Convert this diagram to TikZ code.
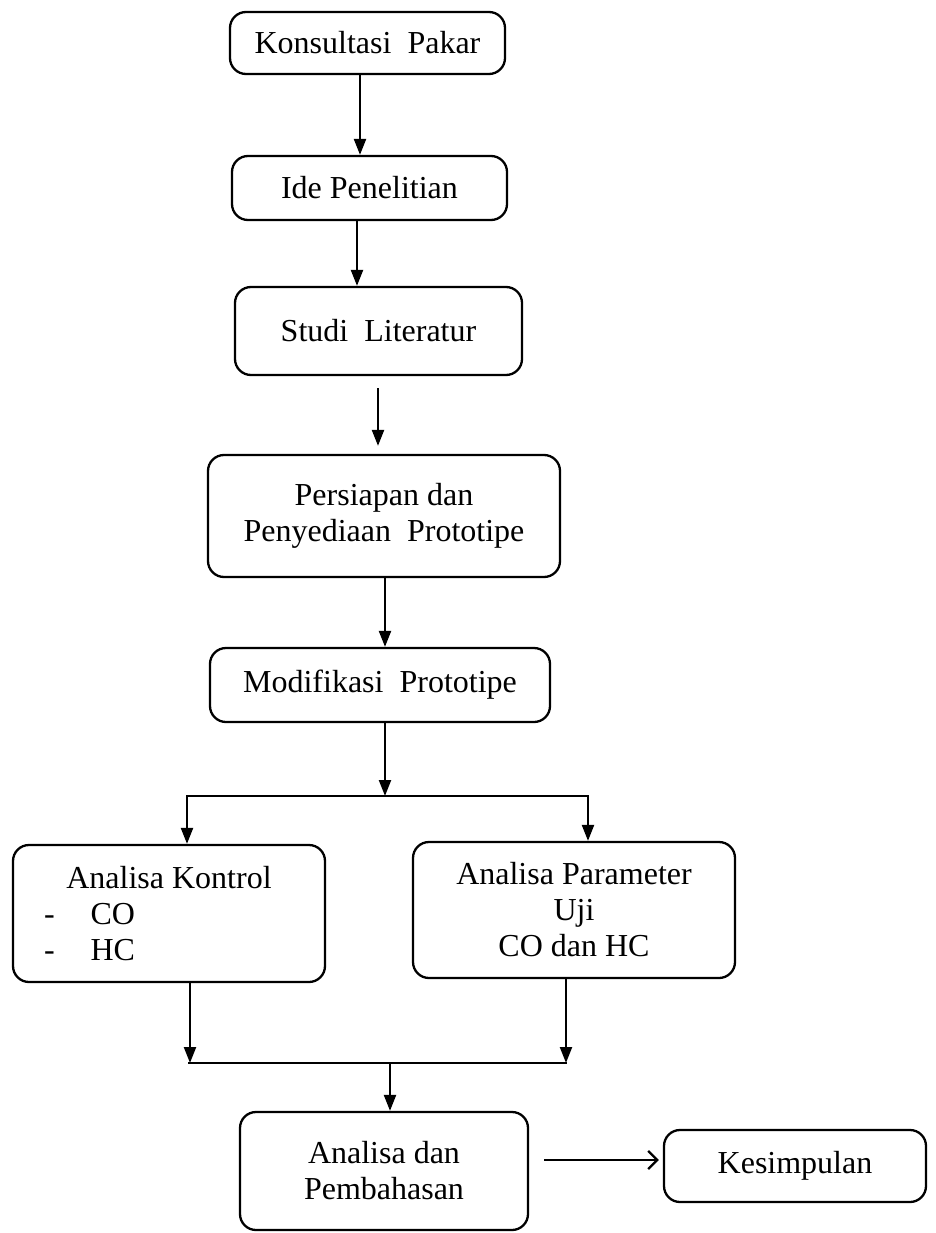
\documentclass[tikz,border=0pt]{standalone}
\usepackage{fontspec}
\setmainfont{Liberation Serif}
\usepackage{tikz}
\usetikzlibrary{arrows.meta, calc}

\begin{document}
\begin{tikzpicture}[x=1pt, y=-1pt,
			>={Triangle[length=16pt, width=12pt]},
			box/.style={draw, line width=2.3pt, rounded corners=16pt, align=center,
				inner sep=0pt, font=\fontsize{32}{36}\selectfont},
			line/.style={line width=2.3pt},
			arr/.style={->, line width=2.3pt},
			openarr/.style={-{Straight Barb[length=9pt, width=18pt]}, line width=2.3pt}]

			\useasboundingbox[fill=white] (0,0) rectangle (936,1233);

			\node[box, minimum width=275pt, minimum height=62pt] (pakar) at (367.5,43) {Konsultasi\ \ Pakar};
			\node[box, minimum width=275pt, minimum height=64pt] (ide) at (369.5,188) {Ide Penelitian};
			\node[box, minimum width=287pt, minimum height=88pt] (studi) at (378.5,331) {Studi\ \ Literatur};
			\node[box, minimum width=352pt, minimum height=122pt] (persiapan) at (384,516) {Persiapan dan\\Penyediaan\ \ Prototipe};
			\node[box, minimum width=340pt, minimum height=74pt] (modif) at (380,685) {Modifikasi\ \ Prototipe};
			\node[box, minimum width=312pt, minimum height=137pt] (kontrol) at (169,913.5)
				{Analisa Kontrol\\\makebox[250pt][l]{-\hspace{36pt}CO}\\\makebox[250pt][l]{-\hspace{36pt}HC}};
			\node[box, minimum width=322pt, minimum height=136pt] (param) at (574,910) {Analisa Parameter\\Uji\\CO dan HC};
			\node[box, minimum width=288pt, minimum height=118pt] (analisa) at (384,1171) {Analisa dan\\Pembahasan};
			\node[box, minimum width=262pt, minimum height=72pt] (simpul) at (795,1166) {Kesimpulan};

			% alur utama
			\draw[arr] (pakar.south -| 360,0) -- (ide.north -| 360,0);
			\draw[arr] (ide.south -| 357,0) -- (studi.north -| 357,0);
			\draw[arr, shorten <=12pt, shorten >=8pt] (studi.south -| 378,0) -- (persiapan.north -| 378,0);
			\draw[arr] (persiapan.south -| 385,0) -- (modif.north -| 385,0);

			% cabang ke analisa
			\coordinate (cabang) at (385,796);
			\draw[arr] (modif.south -| cabang) -- (cabang);
			\draw[arr] (cabang) -| ([xshift=18pt]kontrol.north);
			\draw[arr] (cabang) -| ([xshift=14pt]param.north);

			% gabung
			\coordinate (gabung) at (390,1063);
			\draw[arr] ([xshift=21pt]kontrol.south) -- ([xshift=21pt]kontrol.south |- gabung);
			\draw[arr] ([xshift=-8pt]param.south) -- ([xshift=-8pt]param.south |- gabung);
			\draw[line] ([xshift=19pt]kontrol.south |- gabung) -- ([xshift=-7pt]param.south |- gabung);
			\draw[arr] (gabung) -- (analisa.north -| gabung);

			\draw[openarr] ([xshift=15pt, yshift=11pt]analisa.east) -- ([xshift=-4pt, yshift=11pt]analisa.east -| simpul.west);
		\end{tikzpicture}
\end{document}
